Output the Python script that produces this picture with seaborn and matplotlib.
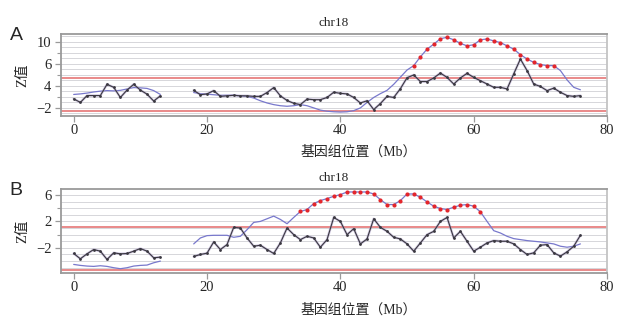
import numpy as np
import pandas as pd
import matplotlib
matplotlib.use("Agg")
import matplotlib.pyplot as plt
import seaborn as sns

sns.set_theme(style="white")
plt.rcParams["font.family"] = ["Liberation Serif", "Noto Sans CJK SC", "DejaVu Sans"]
plt.rcParams["axes.unicode_minus"] = True

# ---- genomic positions (Mb), two arms separated by the centromere gap ----
pos_p = list(range(0, 14))
pos_q = list(range(18, 77))

# ---- panel A: raw Z scores and smoothed Z scores ----
a_raw_p = [-0.35, -1.0, 0.25, 0.25, 0.25, 2.3, 1.75, -0.1, 1.25, 2.3, 1.25, 0.5, -0.75, 0.2]
a_smooth_p = [0.45, 0.55, 0.7, 0.9, 1.05, 1.15, 1.1, 1.2, 1.45, 1.7, 1.65, 1.55, 1.15, 0.45]
a_raw_q = [1.2, 0.4, 0.55, 1.15, 0.1, 0.2, 0.3, 0.2, 0.2, 0.1,
           0.1, 0.8, 1.7, 0.2, -0.65, -1.15, -1.4, -0.4, -0.5, -0.5,
           -0.1, 0.85, 0.65, 0.55, -0.1, -1.1, -0.7, -2.3, -1.2, 0.1,
           -0.1, 1.5, 3.5, 4.0, 2.8, 2.8, 3.45, 4.35, 3.55, 2.35,
           3.45, 4.3, 3.55, 2.95, 2.35, 1.75, 1.75, 1.45, 4.2, 6.9,
           4.8, 2.35, 1.9, 1.15, 1.6, 0.85, 0.25, 0.1, 0.25]
a_smooth_q = [0.8, 0.6, 0.5, 0.4, 0.3, 0.3, 0.3, 0.2, 0.1, -0.2,
              -0.7, -1.1, -1.4, -1.6, -1.7, -1.6, -1.4, -1.6, -2.0, -2.4,
              -2.6, -2.7, -2.75, -2.7, -2.5, -2.0, -1.0, -0.1, 0.6, 1.2,
              2.3, 3.6, 4.9, 5.7, 7.3, 8.7, 9.6, 10.6, 10.85, 10.4,
              9.75, 9.3, 9.5, 10.4, 10.55, 10.2, 9.9, 9.3, 8.7, 7.7,
              6.9, 6.3, 5.9, 5.7, 5.7, 4.8, 3.1, 1.75, 1.3]
a_limits = [-2.55, 3.4]
a_dot_cut = 5.2
a_yticks = [10, 6, 2, -2]
a_yticklabels = ["10", "6", "4", "\u22122"]

# ---- panel B ----
b_raw_p = [-2.85, -3.65, -2.9, -2.25, -2.5, -3.75, -2.75, -2.9, -2.85, -2.5, -2.1, -2.5, -3.5, -3.4]
b_smooth_p = [-4.5, -4.65, -4.75, -4.8, -4.7, -4.8, -5.0, -5.15, -5.0, -4.75, -4.65, -4.6, -4.25, -4.0]
b_raw_q = [-3.3, -3.0, -2.8, -1.1, -2.25, -1.5, 1.1, 1.0, -0.5, -1.75,
           -1.6, -2.25, -2.85, -1.25, 1.0, 0.0, -0.75, -0.25, -0.5, -1.9,
           -0.75, 2.6, 2.0, 0.0, 0.9, -1.4, -0.65, 2.4, 1.1, 0.5,
           -0.4, -0.65, -1.4, -2.5, -1.25, 0.0, 0.5, 2.0, 2.6, -0.5,
           0.5, -1.0, -2.5, -1.9, -1.25, -0.9, -1.0, -1.0, -1.4, -2.25,
           -3.0, -2.75, -1.6, -1.5, -2.75, -3.25, -2.6, -1.75, -0.1]
b_smooth_q = [-1.4, -0.5, -0.15, -0.1, -0.1, -0.1, -0.4, -0.25, 0.75, 1.85,
              2.0, 2.4, 2.8, 2.3, 1.65, 2.6, 3.5, 3.8, 4.7, 5.15,
              5.45, 5.8, 6.05, 6.45, 6.45, 6.45, 6.45, 6.15, 5.3, 4.55,
              4.55, 5.15, 6.15, 6.15, 5.65, 4.95, 4.3, 3.95, 3.8, 4.15,
              4.45, 4.55, 4.3, 3.45, 2.0, 0.6, 0.25, -0.25, -0.6, -0.75,
              -0.9, -1.0, -1.1, -1.25, -1.4, -1.75, -1.9, -1.75, -1.4]
b_limits = [-5.3, 1.15]
b_dot_cut = 3.0
b_yticks = [6, 2, -2]
b_yticklabels = ["6", "2", "\u22122"]

x_ticks = [0, 20, 40, 60, 80]
title = "chr18"
x_label = "基因组位置（Mb）"
y_label = "Z值"

SPINE = "#9a9a9a"
RAW = "#3a3840"
HALO = "#a393c4"
SMOOTH = "#7878cc"
LIMIT = "#e36a6a"
DOT = "#e3262c"
GRID = "#d6d6da"


def long_frame(pp, vp, pq, vq):
    return pd.DataFrame({
        "pos": list(pp) + list(pq),
        "z": list(vp) + list(vq),
        "arm": ["p"] * len(pp) + ["q"] * len(pq),
    })


def draw_panel(ax, raw_p, smooth_p, raw_q, smooth_q, limits, dot_cut,
               ylim, yticks, yticklabels, letter):
    raw = long_frame(pos_p, raw_p, pos_q, raw_q)
    smooth = long_frame(pos_p, smooth_p, pos_q, smooth_q)

    ax.set_xlim(-1.9, 80)
    ax.set_ylim(*ylim)

    for g in np.arange(np.ceil(ylim[0]), ylim[1], 1.0):
        ax.axhline(g, color=GRID, lw=0.7, zorder=0)
    for lim in limits:
        ax.axhline(lim, color=LIMIT, lw=1.1, zorder=1)

    sns.lineplot(data=smooth, x="pos", y="z", units="arm", estimator=None,
                 color=SMOOTH, lw=0.9, ax=ax, legend=False, zorder=2)
    sns.lineplot(data=raw, x="pos", y="z", units="arm", estimator=None,
                 color=HALO, lw=1.8, alpha=0.5, ax=ax, legend=False, zorder=3)
    sns.lineplot(data=raw, x="pos", y="z", units="arm", estimator=None,
                 color=RAW, lw=0.8, marker="o", markersize=2.0,
                 markeredgewidth=0, ax=ax, legend=False, zorder=4)
    hot = smooth[smooth["z"] > dot_cut]
    sns.scatterplot(data=hot, x="pos", y="z", color=DOT, s=9, linewidth=0,
                    ax=ax, legend=False, zorder=5)

    ax.set_xticks(x_ticks)
    ax.set_xticklabels([str(t) for t in x_ticks])
    ax.set_yticks(yticks)
    ax.set_yticklabels(yticklabels)
    ax.set_yticks(np.arange(yticks[-1] + 2, yticks[0], 4), minor=True)
    ax.tick_params(axis="both", which="major", direction="out", length=4,
                   width=0.9, color=SPINE, labelsize=10.5, pad=2,
                   left=True, bottom=True)
    ax.tick_params(axis="y", which="minor", direction="out", length=3,
                   width=0.8, color=SPINE, left=True)
    ax.tick_params(axis="y", pad=3)
    for side in ["top", "left", "bottom", "right"]:
        ax.spines[side].set_visible(True)
        ax.spines[side].set_color(SPINE)
        ax.spines[side].set_linewidth(1.3)
    ax.spines["right"].set_color("#c4c4c4")

    ax.set_title(title, fontsize=9.5, pad=6)
    ax.set_xlabel(x_label, fontsize=10)
    ax.xaxis.set_label_coords(0.545, -0.44)
    ax.xaxis.label.set_va("center")
    ax.set_ylabel(y_label, fontsize=10.5)
    ax.yaxis.set_label_coords(-0.071, 0.5)
    ax.yaxis.label.set_va("center")
    ax.grid(False)

    fig = ax.figure
    bbox = ax.get_position()
    fig.text(0.016, bbox.y1 - 0.005, letter, fontsize=14,
             family="Liberation Sans", ha="left", va="center")


fig = plt.figure(figsize=(6.17, 3.21), dpi=100)
ax_a = fig.add_axes([0.0989, 0.639, 0.885, 0.255])
ax_b = fig.add_axes([0.0989, 0.1495, 0.885, 0.2617])

draw_panel(ax_a, a_raw_p, a_smooth_p, a_raw_q, a_smooth_q, a_limits, a_dot_cut,
           (-3.45, 11.45), a_yticks, a_yticklabels, "A")
draw_panel(ax_b, b_raw_p, b_smooth_p, b_raw_q, b_smooth_q, b_limits, b_dot_cut,
           (-5.8, 6.9), b_yticks, b_yticklabels, "B")

fig.savefig("out.png", dpi=100, facecolor="white")
